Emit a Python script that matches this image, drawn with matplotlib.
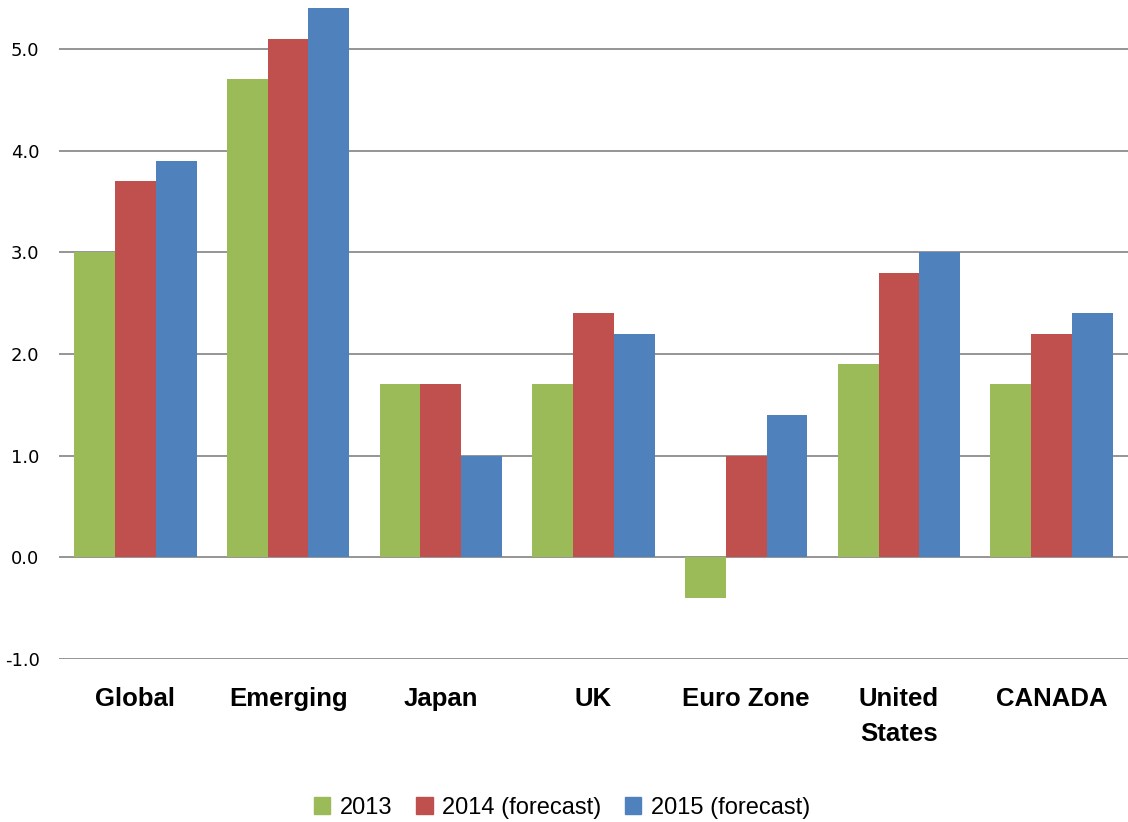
import matplotlib
matplotlib.use("Agg")
import matplotlib.pyplot as plt
import numpy as np
from matplotlib.patches import Patch

# datos
regiones = ["Global", "Emerging", "Japan", "UK", "Euro Zone", "United\nStates", "CANADA"]
series = ["2013", "2014 (forecast)", "2015 (forecast)"]
v_2013 = [3.0, 4.7, 1.7, 1.7, -0.4, 1.9, 1.7]
v_2014 = [3.7, 5.1, 1.7, 2.4, 1.0, 2.8, 2.2]
v_2015 = [3.9, 5.4, 1.0, 2.2, 1.4, 3.0, 2.4]
y_ticks = [-1.0, 0.0, 1.0, 2.0, 3.0, 4.0, 5.0]

colores = ["#9BBB59", "#C0504D", "#4F81BD"]

fig = plt.figure(figsize=(11.28, 8.22), dpi=100)
ax = fig.add_axes([59 / 1128, 163 / 822, 1 - 59 / 1128, 1 - 163 / 822])

x = np.arange(len(regiones))
ancho = 0.267
for i, valores in enumerate([v_2013, v_2014, v_2015]):
    ax.bar(x + (i - 1) * ancho, valores, width=ancho, color=colores[i], zorder=3)

ax.set_xlim(-0.5, len(regiones) - 0.5)
ax.set_ylim(-1.0, 5.48)
ax.set_yticks(y_ticks)
ax.set_yticklabels(["%.1f" % t for t in y_ticks], fontsize=13, family="DejaVu Sans")
ax.set_xticks(x)
ax.set_xticklabels(regiones, fontsize=18.5, fontweight="bold", family="Liberation Sans",
                   linespacing=1.6)
ax.tick_params(axis="y", length=0, pad=14)
ax.tick_params(axis="x", length=0, pad=20)
ax.grid(axis="y", color="#8c8c8c", linewidth=1.3, zorder=0)
for s in ax.spines.values():
    s.set_visible(False)

handles = [Patch(color=c, label=s) for c, s in zip(colores, series)]
fig.legend(handles=handles, loc="center", bbox_to_anchor=(562 / 1128, 14 / 822), ncol=3,
           frameon=False, prop={"family": "Liberation Sans", "size": 17},
           handlelength=0.7, handleheight=0.7, handletextpad=0.4, columnspacing=1.0)

fig.savefig("out.png", dpi=100)
